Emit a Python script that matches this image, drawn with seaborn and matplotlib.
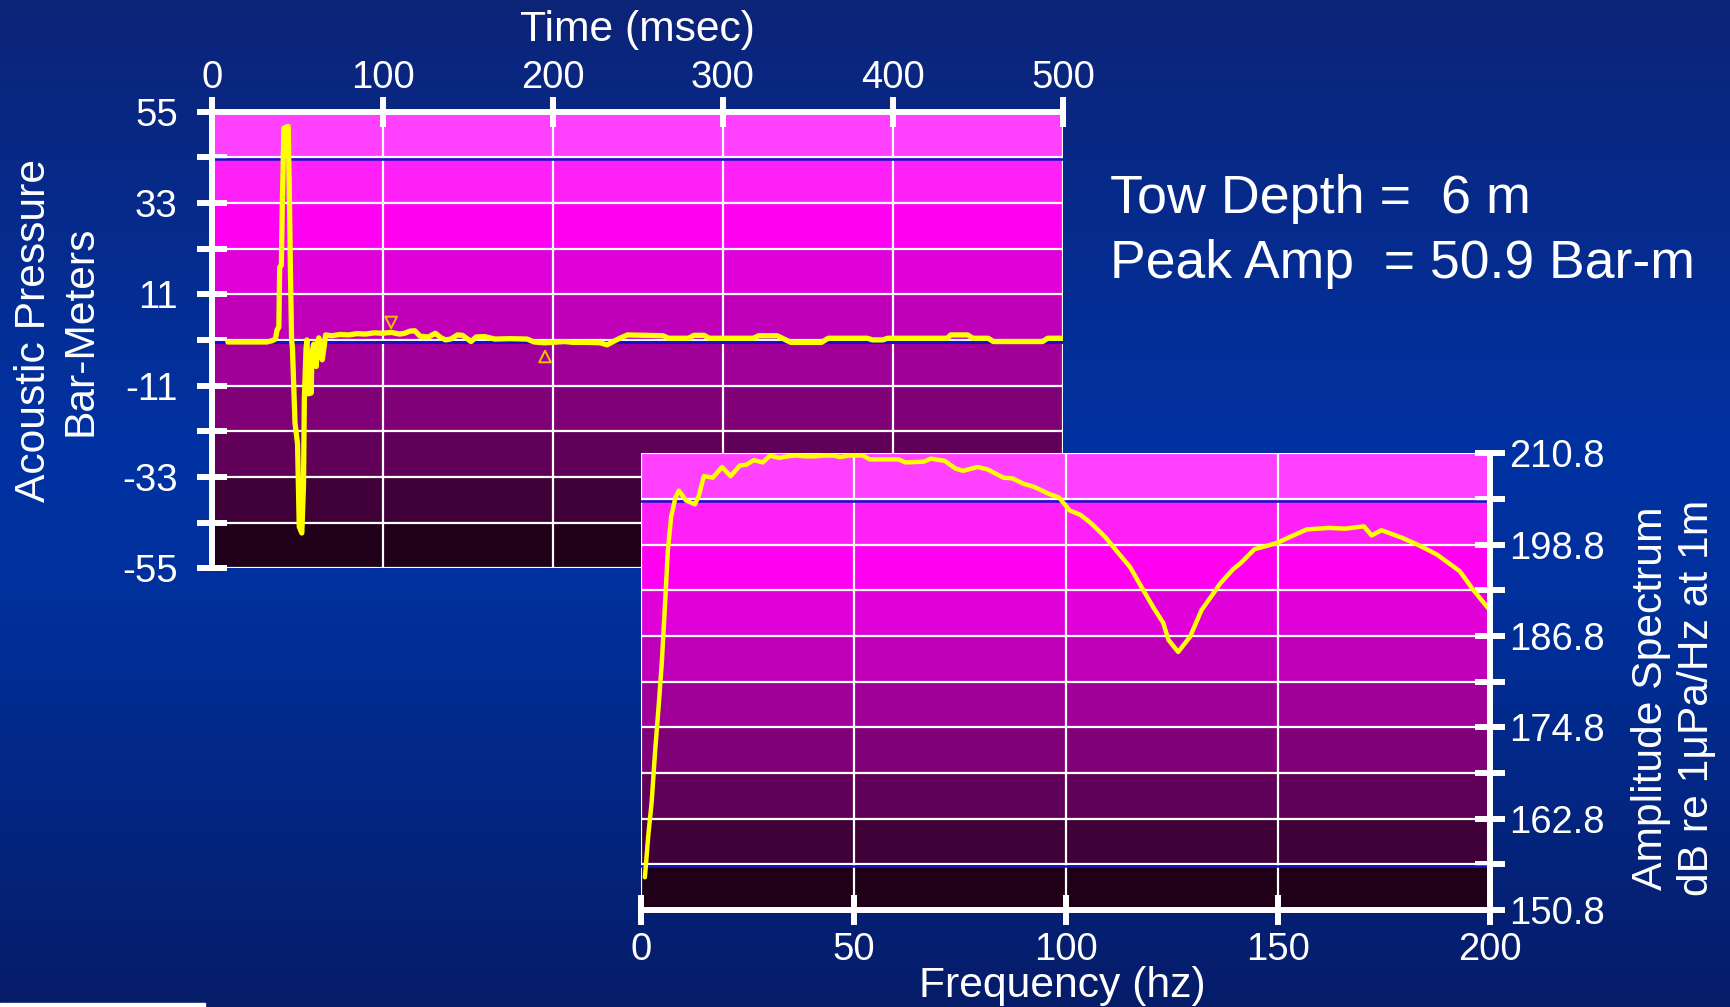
import numpy as np
import pandas as pd
import matplotlib
matplotlib.use("Agg")
import matplotlib.pyplot as plt
import seaborn as sns
from matplotlib.colors import LinearSegmentedColormap
from matplotlib.patches import Rectangle
from matplotlib.ticker import FixedLocator, FixedFormatter

# ---------------- data ----------------
time_ms = [9, 32, 35, 37, 38, 39, 39.5, 40.5, 41, 42, 44.5, 45.3, 45.8, 46.5, 47, 48.5, 50, 51,
           52.5, 53.5, 54, 55, 55.5, 56, 56.5, 57.5, 58, 58.5, 59.5, 60, 61, 61.5, 62.5, 63.5,
           64.5, 65.5, 66.5, 70, 75, 80, 85, 90, 95, 100, 105, 110, 113, 116, 119, 122, 127,
           131, 134, 137, 140, 144, 147, 150, 152, 155, 160, 163, 166, 175, 185, 189, 195, 200,
           207, 212, 220, 228, 232, 235, 240, 244, 255, 265, 268, 280, 283, 289, 292, 318, 321,
           332, 336, 340, 358, 362, 385, 388, 394, 397, 432, 434, 444, 447, 456, 459, 488, 491, 500]
pressure = [-0.5, -0.5, -0.2, 0.2, 2.5, 3.0, 17.5, 18.0, 32.0, 51.0, 51.4, 32.0, 17.0, 0.0, -2.0,
            -20.0, -25.0, -45.0, -46.5, -35.0, -14.0, -2.0, 0.0, -6.0, -13.0, -10.0, -12.8, -3.0,
            -1.0, -6.0, -6.4, -1.0, 0.5, -3.0, -4.8, -2.0, 1.2, 1.0, 1.3, 1.2, 1.5, 1.4, 1.7, 1.6,
            1.8, 1.4, 1.6, 2.1, 2.2, 0.9, 0.7, 1.6, 0.6, 0.0, 0.2, 1.2, 1.1, 0.2, -0.4, 0.7, 0.8,
            0.5, 0.2, 0.3, 0.2, -0.5, -0.7, -0.6, -0.4, -0.6, -0.6, -0.7, -1.2, -0.5, 0.5, 1.2,
            1.1, 1.0, 0.4, 0.4, 1.1, 1.1, 0.4, 0.4, 1.0, 1.0, 0.2, -0.6, -0.6, 0.4, 0.4, 0.0, 0.0,
            0.4, 0.4, 1.2, 1.2, 0.4, 0.4, -0.4, -0.4, 0.4, 0.4]

marker_down_t = [105]
marker_down_v = [4.2]
marker_up_t = [195.5]
marker_up_v = [-4.0]

freq_hz = [0.8, 1.6, 2.4, 3.2, 4.0, 4.8, 5.5, 6.2, 7.0, 8.0, 8.8, 10.5, 12.6, 13.5, 14.7, 16.8,
           19.0, 21.0, 23.2, 24.7, 26.5, 28.6, 30.3, 32.4, 34.5, 36.2, 38.8, 40.8, 43.0, 45.4,
           46.8, 48.9, 52.2, 53.8, 60.6, 62.2, 66.5, 68.2, 71.5, 74.0, 75.8, 79.2, 81.5, 85.3,
           87.5, 90.0, 92.5, 95.9, 98.4, 100.9, 103.5, 106.0, 109.3, 111.5, 115.1, 118.3, 120.6,
           123.0, 124.2, 126.5, 129.3, 132.0, 134.8, 136.4, 139.5, 141.1, 144.5, 149.7, 153.2,
           156.8, 162.1, 165.8, 170.3, 172.1, 174.4, 179.3, 182.9, 187.5, 192.9, 196.0, 199.2, 200.0]
amp_db = [155.1, 160.6, 165.0, 171.6, 177.3, 183.4, 190.5, 198.0, 202.5, 205.0, 205.9, 204.6,
          204.1, 205.2, 207.8, 207.6, 209.0, 207.8, 209.2, 209.3, 209.9, 209.6, 210.5, 210.2,
          210.4, 210.5, 210.4, 210.4, 210.5, 210.5, 210.3, 210.5, 210.5, 210.0, 210.0, 209.6,
          209.7, 210.1, 209.8, 208.8, 208.5, 209.0, 208.7, 207.6, 207.5, 206.8, 206.4, 205.5,
          205.0, 203.3, 202.7, 201.6, 199.8, 198.3, 195.9, 192.8, 190.6, 188.5, 186.3, 184.7,
          186.7, 190.2, 192.4, 193.7, 195.6, 196.3, 198.2, 199.0, 199.9, 200.8, 201.0, 200.9,
          201.2, 200.0, 200.7, 199.7, 198.8, 197.5, 195.3, 192.9, 190.7, 190.2]

time_ticks = [0, 100, 200, 300, 400, 500]
pressure_ticks = [55, 33, 11, -11, -33, -55]
pressure_minor = [44, 22, 0, -22, -44]
freq_ticks = [0, 50, 100, 150, 200]
db_ticks = [150.8, 162.8, 174.8, 186.8, 198.8, 210.8]
db_minor = [156.8, 168.8, 180.8, 192.8, 204.8]

band_colors = ['#FF40FF', '#FF20F8', '#FF00F0', '#E000D8', '#C000B8',
               '#A00098', '#800078', '#600058', '#400038', '#200018']

# ---------------- style ----------------
sns.set_theme(style="white")
plt.rcParams['font.family'] = ['Liberation Sans', 'DejaVu Sans']
plt.rcParams['axes.unicode_minus'] = False

fig = plt.figure(figsize=(17.31, 10.07), dpi=100)

# background gradient
bg = fig.add_axes([0, 0, 1, 1], zorder=-10)
bg_cmap = LinearSegmentedColormap.from_list(
    'bg', [(0.0, (12/255, 36/255, 120/255)), (0.45, (0/255, 50/255, 162/255)),
           (0.6, (0/255, 48/255, 156/255)), (1.0, (6/255, 28/255, 104/255))])
bg.imshow(np.linspace(0, 1, 256).reshape(-1, 1), aspect='auto', cmap=bg_cmap,
          extent=[0, 1, 0, 1], origin='upper')
bg.set_axis_off()
fig.patches.append(Rectangle((0, 0), 205/1731, 4/1007, transform=fig.transFigure,
                             color='white', zorder=5))

W, H = 1731, 1007
ax1 = fig.add_axes([212.5/W, 1 - 568.3/H, 850.5/W, 456.8/H], zorder=1)
ax2 = fig.add_axes([641.5/W, 1 - 910/H, 848.5/W, 456.7/H], zorder=2)

TICK_LEN = 22
TICK_W = 4.3
LBL = 27.5
AXLBL = 30.7

def bands(ax, lo, hi):
    edges = np.linspace(hi, lo, len(band_colors) + 1)
    for c, top, bot in zip(band_colors, edges[:-1], edges[1:]):
        ax.axhspan(bot, top, color=c, zorder=0.2, lw=0)

# ---------- time series ----------
ax1.set_xlim(0, 500)
ax1.set_ylim(-55, 55)
bands(ax1, -55, 55)
ax1.axhline(44 - 0.5, color='#1414C8', lw=1.8, zorder=0.7)
ax1.axhline(0 - 0.45, color='#1414C8', lw=2.2, zorder=0.7)
sns.lineplot(x=time_ms, y=pressure, ax=ax1, sort=False, estimator=None,
             color='#FFFF00', lw=3.8, zorder=3)
sns.scatterplot(x=marker_down_t, y=marker_down_v, ax=ax1, marker='v', s=70,
                facecolor='none', edgecolor='#F0C000', linewidth=1.4, zorder=4)
sns.scatterplot(x=marker_up_t, y=marker_up_v, ax=ax1, marker='^', s=70,
                facecolor='none', edgecolor='#F0C000', linewidth=1.4, zorder=4)

ax1.xaxis.tick_top()
ax1.xaxis.set_label_position('top')
ax1.xaxis.set_major_locator(FixedLocator(time_ticks))
ax1.yaxis.set_major_locator(FixedLocator(pressure_ticks))
ax1.yaxis.set_minor_locator(FixedLocator(pressure_minor))
ax1.yaxis.set_major_formatter(FixedFormatter([str(v) for v in pressure_ticks]))
ax1.grid(which='both', color='white', lw=1.6)
ax1.set_axisbelow(True)
for s in ['right', 'bottom']:
    ax1.spines[s].set_visible(False)
for s in ['left', 'top']:
    ax1.spines[s].set_color('white')
    ax1.spines[s].set_linewidth(TICK_W)
    ax1.spines[s].set_zorder(5)
ax1.tick_params(axis='y', which='both', direction='inout', length=TICK_LEN, width=TICK_W,
                color='white', labelcolor='white', labelsize=LBL, pad=14, left=True, right=False)
ax1.tick_params(axis='x', which='both', direction='inout', length=TICK_LEN, width=TICK_W,
                color='white', labelcolor='white', labelsize=LBL, pad=0, top=True, bottom=False,
                labeltop=True, labelbottom=False)
ax1.set_xlabel('Time (msec)', color='white', fontsize=AXLBL)
ax1.xaxis.set_label_coords(0.5, 1 + (111.5 - 30.5) / 456.8)
ax1.xaxis.label.set_va('center')
ax1.set_ylabel('Acoustic Pressure\nBar-Meters', color='white', fontsize=AXLBL, linespacing=1.2)
ax1.yaxis.set_label_coords((57 - 212.5) / 850.5, (568.3 - 331) / 456.8)
ax1.yaxis.label.set_va('center')

# ---------- spectrum ----------
ax2.set_xlim(0, 200)
ax2.set_ylim(150.8, 210.8)
bands(ax2, 150.8, 210.8)
ax2.axhline(204.8 - 0.22, color='#1414C8', lw=1.8, zorder=0.7)
ax2.axhline(156.8 - 0.22, color='#1414C8', lw=1.8, zorder=0.7)
sns.lineplot(x=freq_hz, y=amp_db, ax=ax2, sort=False, estimator=None,
             color='#FFFF00', lw=3.2, zorder=3)
ax2.yaxis.tick_right()
ax2.yaxis.set_label_position('right')
ax2.xaxis.set_major_locator(FixedLocator(freq_ticks))
ax2.yaxis.set_major_locator(FixedLocator(db_ticks))
ax2.yaxis.set_minor_locator(FixedLocator(db_minor))
ax2.yaxis.set_major_formatter(FixedFormatter([f'{v:.1f}' for v in db_ticks]))
ax2.grid(which='both', color='white', lw=1.6)
ax2.set_axisbelow(True)
for s in ['left', 'top']:
    ax2.spines[s].set_visible(False)
for s in ['right', 'bottom']:
    ax2.spines[s].set_color('white')
    ax2.spines[s].set_linewidth(TICK_W)
    ax2.spines[s].set_zorder(5)
ax2.tick_params(axis='y', which='both', direction='inout', length=TICK_LEN, width=TICK_W,
                color='white', labelcolor='white', labelsize=LBL, pad=3, left=False, right=True,
                labelleft=False, labelright=True)
ax2.tick_params(axis='x', which='both', direction='inout', length=TICK_LEN, width=TICK_W,
                color='white', labelcolor='white', labelsize=LBL, pad=5, bottom=True, top=False)
ax2.set_xlabel('Frequency (hz)', color='white', fontsize=AXLBL)
ax2.xaxis.set_label_coords((1062 - 641.5) / 848.5, (910 - 986) / 456.7)
ax2.xaxis.label.set_va('center')
ax2.set_ylabel('Amplitude Spectrum\ndB re 1\u03bcPa/Hz at 1m', color='white', fontsize=AXLBL,
               linespacing=1.2)
ax2.yaxis.set_label_coords((1674 - 641.5) / 848.5, (910 - 698) / 456.7)
ax2.yaxis.label.set_va('center')

# ---------- annotation ----------
fig.text(1110 / W, 1 - 213 / H, 'Tow Depth =  6 m', color='white', fontsize=38.8, va='baseline')
fig.text(1110 / W, 1 - 278 / H, 'Peak Amp  = 50.9 Bar-m', color='white', fontsize=38.5,
         va='baseline')

fig.savefig('out.png', dpi=100)
